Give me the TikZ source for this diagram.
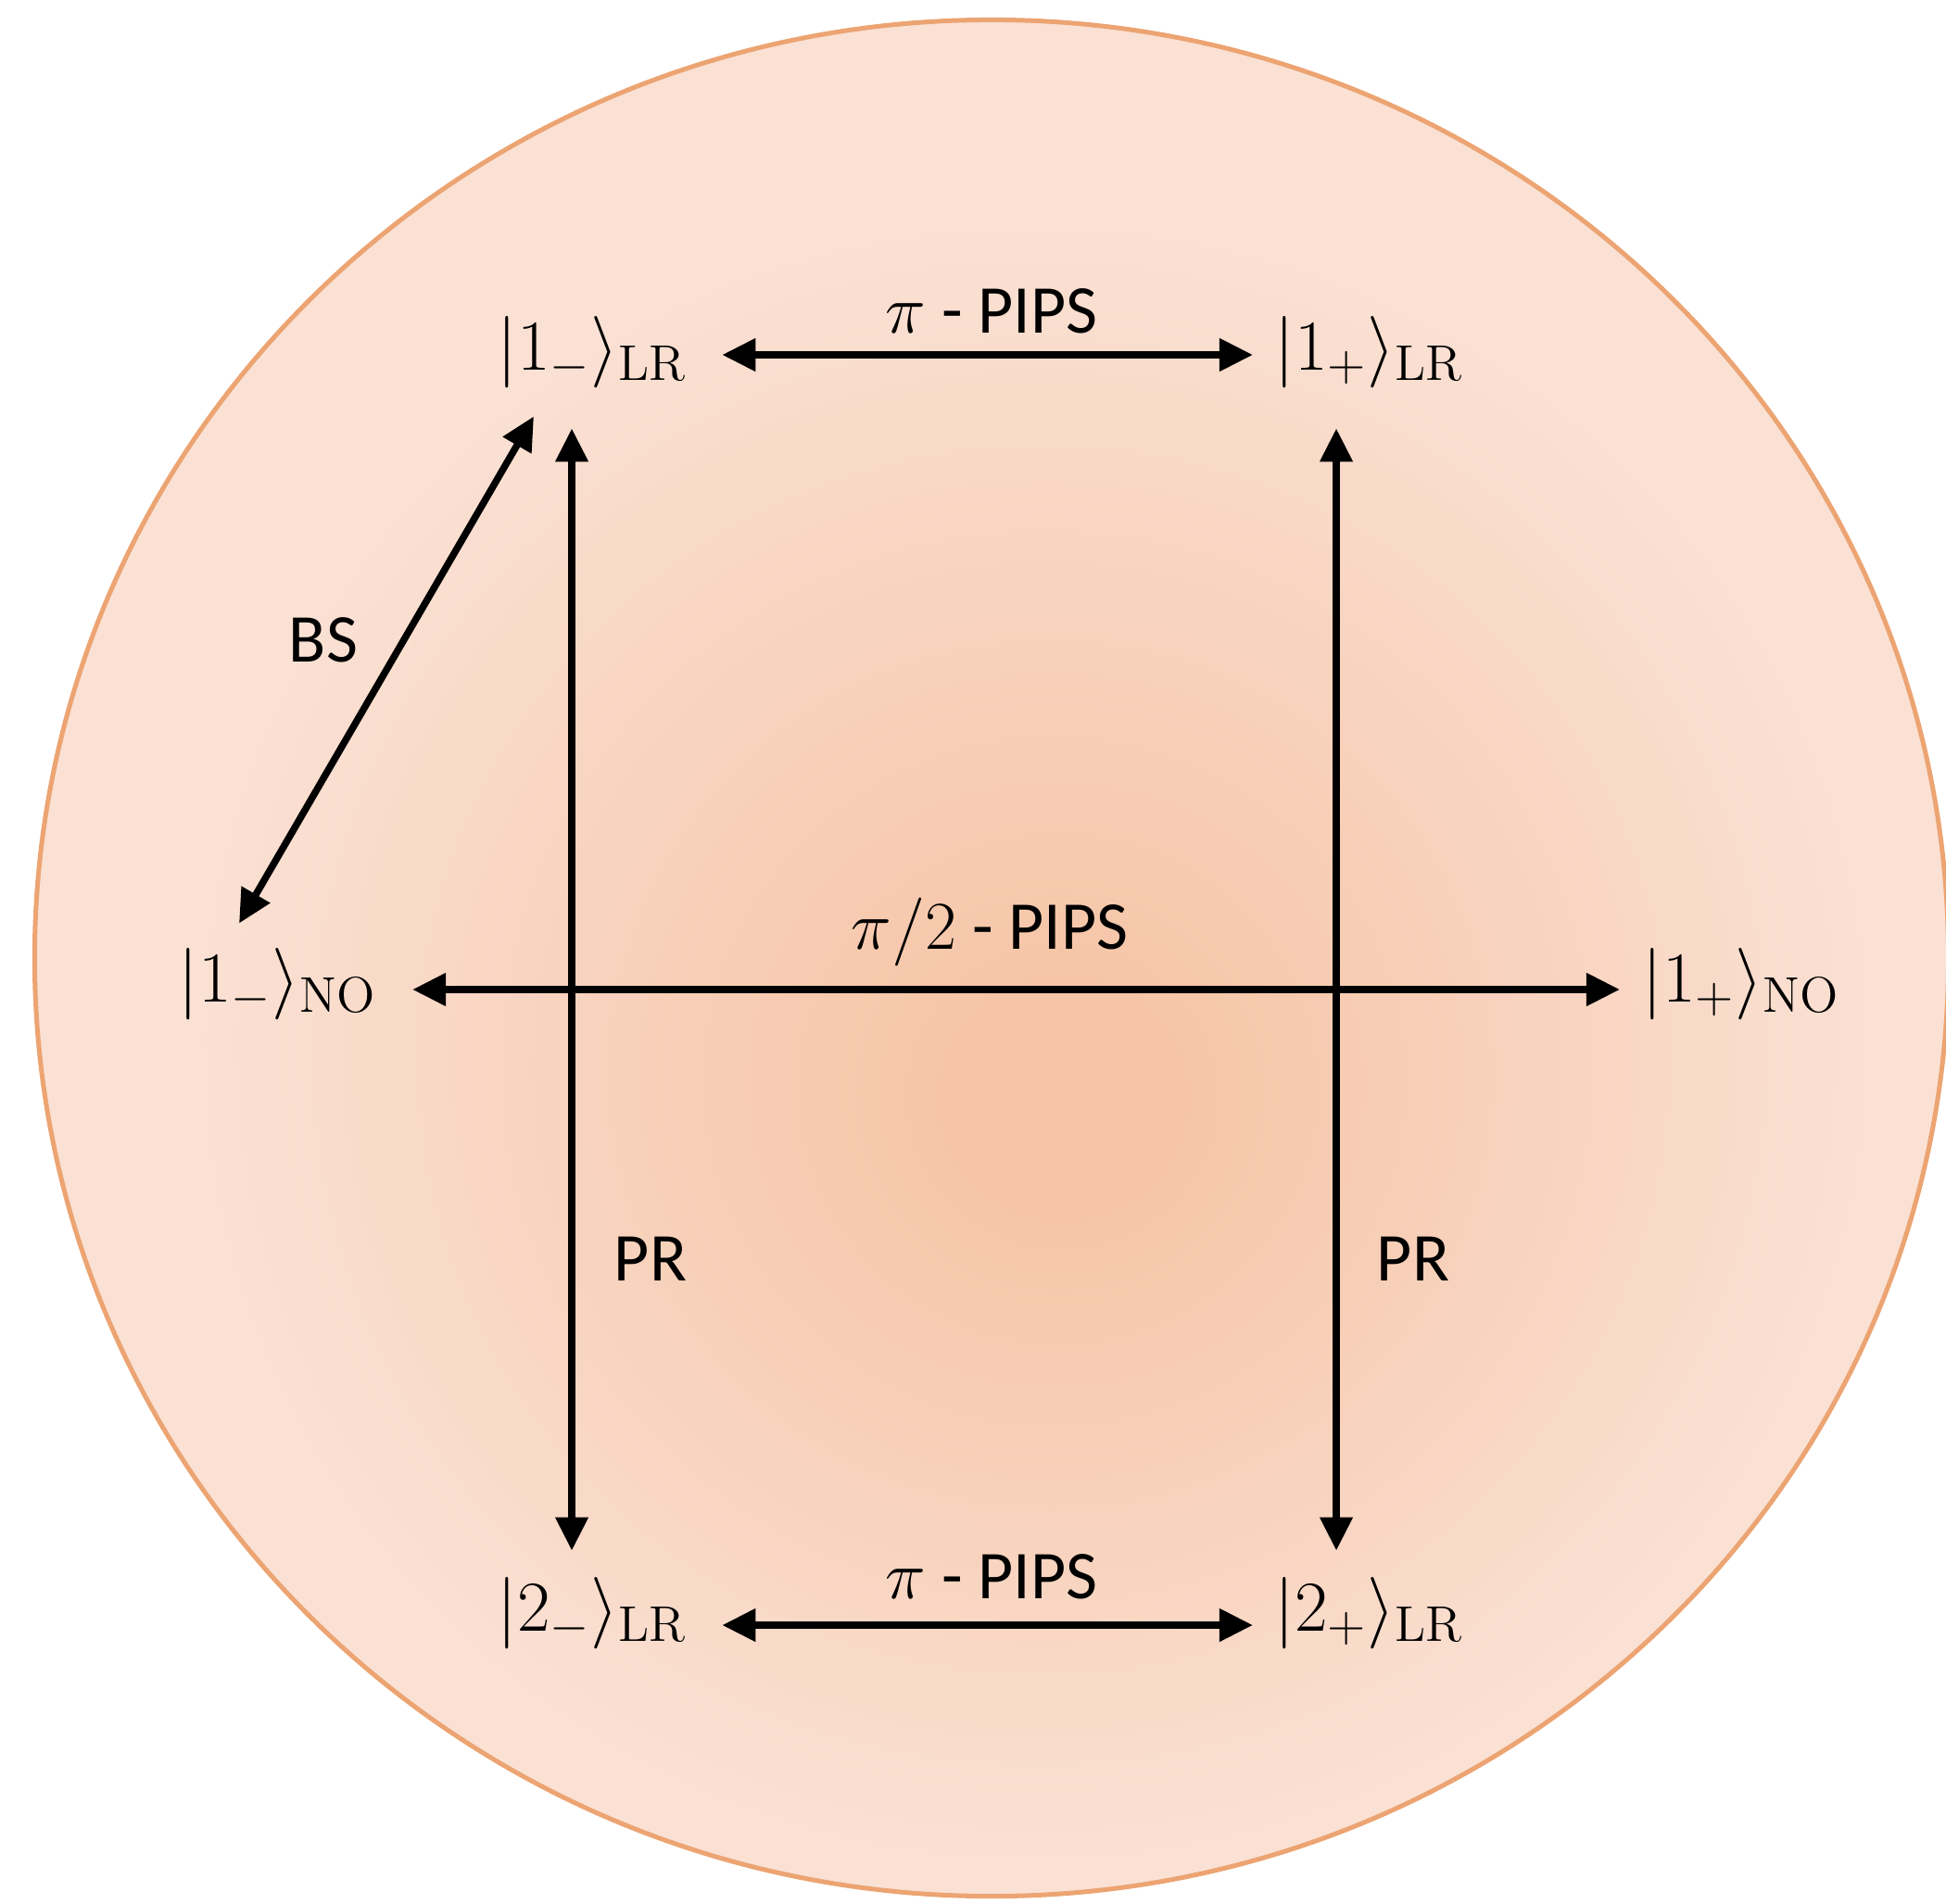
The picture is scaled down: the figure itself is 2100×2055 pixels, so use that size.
\RequirePackage{fix-cm}
\documentclass[tikz,border=0pt]{standalone}
\usepackage[no-math]{fontspec}
\setmainfont{Carlito}
\usetikzlibrary{arrows.meta}
\definecolor{cin}{RGB}{246,197,167}
\definecolor{cout}{RGB}{250,225,212}
\definecolor{rimcol}{RGB}{236,164,114}
\pgfdeclareradialshading{discshade}{\pgfpoint{2bp}{-4bp}}{color(0bp)=(cin); color(3bp)=(cin); color(22bp)=(cout); color(50bp)=(cout)}
\begin{document}
\begin{tikzpicture}[x=0.01cm,y=-0.01cm,
  ket/.style={inner sep=0pt, anchor=west, font=\fontsize{22}{26}\selectfont},
  lbl/.style={inner sep=0pt, anchor=base, font=\fontsize{21}{25}\selectfont},
  arr/.style={line width=0.075cm, {Triangle[length=0.36cm,width=0.34cm]}-{Triangle[length=0.36cm,width=0.34cm]}}]
\useasboundingbox (0,0) rectangle (2100,2055);
\begin{scope}
\clip (0,0) rectangle (2100,2055);
\shade[shading=discshade] (1070,1034) ellipse [x radius=10.32cm, y radius=10.12cm];
\draw[rimcol, line width=0.05cm] (1070,1034) ellipse [x radius=10.32cm, y radius=10.12cm];
\end{scope}
% states
\node[ket] (a1) at (536,380) {$|1_{-}\rangle_{\mathrm{LR}}$};
\node[ket] (b1) at (1375,380) {$|1_{+}\rangle_{\mathrm{LR}}$};
\node[ket] (c1) at (192,1062) {$|1_{-}\rangle_{\mathrm{NO}}$};
\node[ket] (c2) at (1772,1062) {$|1_{+}\rangle_{\mathrm{NO}}$};
\node[ket] (a2) at (536,1741) {$|2_{-}\rangle_{\mathrm{LR}}$};
\node[ket] (b2) at (1375,1741) {$|2_{+}\rangle_{\mathrm{LR}}$};
% connectors
\draw[arr] ([xshift=0.37cm,yshift=-0.03cm]a1.east) -- ([xshift=-0.23cm,yshift=-0.03cm]b1.west);
\draw[arr] ([xshift=0.37cm,yshift=-0.13cm]a2.east) -- ([xshift=-0.23cm,yshift=-0.13cm]b2.west);
\draw[arr] ([xshift=0.38cm,yshift=-0.06cm]c1.east) -- ([xshift=-0.24cm,yshift=-0.06cm]c2.west);
\draw[arr] ([xshift=0.81cm,yshift=-0.43cm]a1.south west) -- ([xshift=0.81cm,yshift=0.28cm]a2.north west);
\draw[arr] ([xshift=0.67cm,yshift=-0.43cm]b1.south west) -- ([xshift=0.67cm,yshift=0.28cm]b2.north west);
\draw[arr] ([xshift=0.40cm,yshift=-0.30cm]a1.south west) -- ([xshift=0.66cm,yshift=0.26cm]c1.north west);
% labels
\node[lbl] (l1) at (1070,360) {$\pi$ - PIPS};
\node[lbl] (l2) at (1068,1024) {$\pi/2$ - PIPS};
\node[lbl] (l3) at (1070,1725) {$\pi$ - PIPS};
\node[lbl] (l4) at (349,714) {BS};
\node[lbl] (l5) at (702,1382) {PR};
\node[lbl] (l6) at (1525,1382) {PR};
\end{tikzpicture}
\end{document}
